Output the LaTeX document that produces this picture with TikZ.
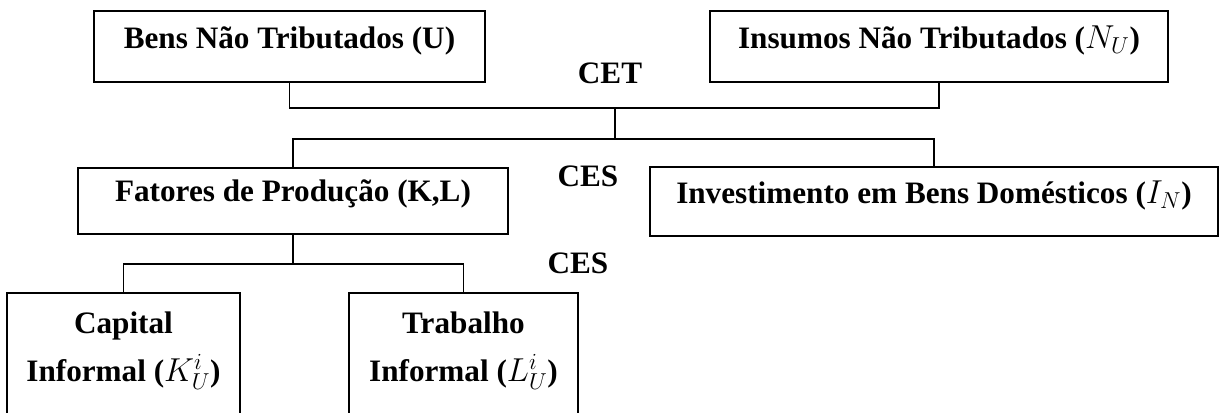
\documentclass[tikz,border=0pt]{standalone}
\usepackage{fontspec}
\setmainfont{Liberation Serif}
\usetikzlibrary{calc}

\begin{document}
\begin{tikzpicture}[x=0.75pt,y=-0.75pt,line width=1.3pt,
    caixa/.style={draw,inner sep=0pt,align=center,
      font=\bfseries\fontsize{23.4}{36}\selectfont},
    rotulo/.style={anchor=base,font=\bfseries\fontsize{23.4}{28}\selectfont}]
      \def\pxl{0.75pt}

      \useasboundingbox (0,0) rectangle (1221,412);
      \clip (0,0) rectangle (1221,412);

      % Caixas
      \node[caixa,minimum width=391*\pxl,minimum height=71.3*\pxl,
        text height=0.8em,text depth=0.52em] (bens) at (289.5,46.35)
        {Bens Não Tributados (U)};
      \node[caixa,minimum width=458*\pxl,minimum height=71.3*\pxl,
        text height=0.8em,text depth=0.52em] (insumos) at (939,46.35)
        {Insumos Não Tributados ($N_U$)};
      \node[caixa,minimum width=430*\pxl,minimum height=66.3*\pxl,
        text height=0.8em,text depth=0.72em] (fatores) at (293,200.9)
        {Fatores de Produção (K,L)};
      \node[caixa,minimum width=568*\pxl,minimum height=68.7*\pxl,
        text height=0.8em,text depth=0.46em] (invest) at (934,201.7)
        {Investimento em Bens Domésticos ($I_N$)};
      \node[caixa,minimum width=233*\pxl,minimum height=127*\pxl,
        text height=53pt,text depth=16pt] (capital) at (123.5,356.5)
        {Capital\\Informal ($K_U^i$)};
      \node[caixa,minimum width=229*\pxl,minimum height=127*\pxl,
        text height=53pt,text depth=16pt] (trabalho) at (463.5,356.5)
        {Trabalho\\Informal ($L_U^i$)};

      % Ligações
      \coordinate (t1) at (615,108);
      \coordinate (t2) at (615,139);
      \coordinate (t3) at ($(fatores.south)+(0,29)$);
      \draw (bens.south) |- (t1) -| (insumos.south);
      \draw (t1) -- (t2);
      \draw (fatores.north) |- (t2) -| (invest.north);
      \draw (fatores.south) -- (t3);
      \draw (capital.north) |- (t3) -| (trabalho.north);

      % Rótulos
      \node[rotulo] (cet) at (610,83) {CET};
      \node[rotulo] (ces1) at (588,186) {CES};
      \node[rotulo] (ces2) at (578,273) {CES};
\end{tikzpicture}
\end{document}
